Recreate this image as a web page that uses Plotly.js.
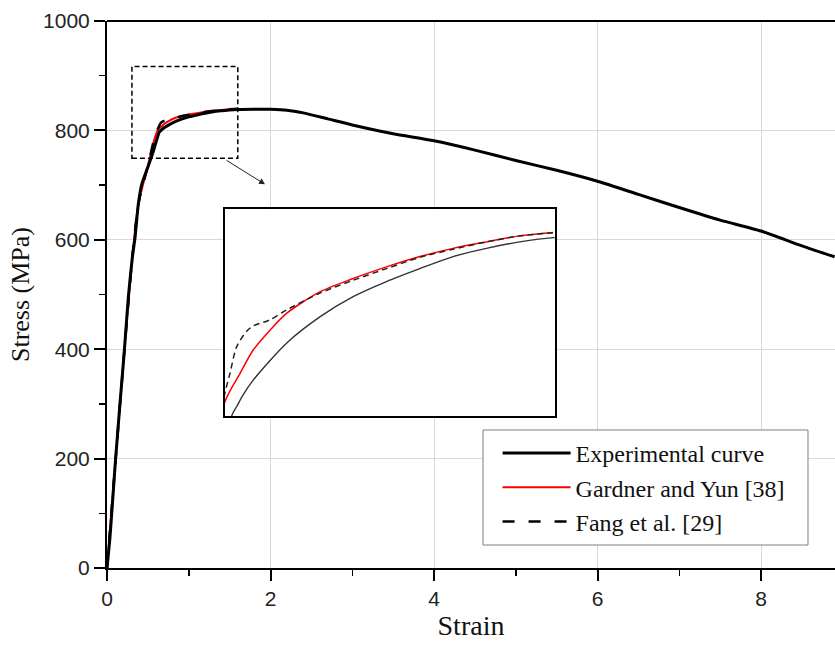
<!DOCTYPE html>
<html>
<head>
<meta charset="utf-8">
<script src="https://cdn.plot.ly/plotly-3.0.1.min.js"></script>
<style>html,body{margin:0;padding:0;background:#fff;}#chart{width:835px;height:646px;}</style>
</head>
<body>
<div id="chart"></div>
<script>
// Experimental curve (strain, stress in MPa)
const strainExp = [0,0.037,0.098,0.159,0.212,0.261,0.31,0.343,0.383,0.424,0.505,0.567,0.64,0.655,0.674,0.704,0.803,0.902,1.001,1.1,1.199,1.298,1.397,1.496,1.595,1.8,2.0,2.2,2.4,2.7,3.0,3.5,4.0,4.5,5.0,5.5,6.0,6.5,7.0,7.5,8.0,8.5,8.9];
const stressExp = [0,57,185,301,397,495,568,604,665,701,735,762,797,799.2,801.9,805.3,813.9,820,824.7,828.2,831.2,834,835.9,837.4,838.4,838.8,838.6,837,832,821,810,794,781,764,745,727,707,683,659,636,616,589,569];

// Gardner and Yun [38]
const strainGY = [0,0.098,0.212,0.31,0.383,0.505,0.58,0.62,0.665,0.704,0.754,0.803,0.902,1.001,1.1,1.199,1.298,1.397,1.496,1.595];
const stressGY = [0,185,397,568,665,738,784,800.3,806.9,812.3,816.9,820.8,825.8,828.9,831.6,834.0,835.9,837.4,838.8,839.6];

// Fang et al. [29]
const strainFang = [0,0.098,0.212,0.31,0.383,0.505,0.58,0.62,0.635,0.655,0.684,0.704,0.754,0.803,0.902,1.001,1.1,1.199,1.298,1.397,1.496,1.595];
const stressFang = [0,185,397,568,665,738,786,802.3,806.9,813.1,816.6,817.9,819.3,821.6,825.5,828.5,831.2,833.8,835.7,837.4,838.8,839.5];

const xTicks = [0,2,4,6,8];
const xMinor = [1,3,5,7];
const yTicks = [0,200,400,600,800,1000];
const yMinor = [100,300,500,700,900];

const names = ['Experimental curve','Gardner and Yun [38]','Fang et al. [29]'];

const serif = 'Liberation Serif, Times New Roman, serif';
const sans = 'Liberation Sans, Arial, sans-serif';

const traces = [
  {x: strainGY, y: stressGY, name: names[1], type:'scatter', mode:'lines', legendrank: 2,
   line:{color:'#ff0000', width:2, shape:'spline', smoothing:0.6}},
  {x: strainFang, y: stressFang, name: names[2], type:'scatter', mode:'lines', legendrank: 3,
   line:{color:'#000000', width:2.5, dash:'12px,14px', shape:'spline', smoothing:0.6}},
  {x: strainExp, y: stressExp, name: names[0], type:'scatter', mode:'lines', legendrank: 1,
   line:{color:'#000000', width:3, shape:'spline', smoothing:0.6}},
  // inset
  {x: strainExp, y: stressExp, xaxis:'x2', yaxis:'y2', type:'scatter', mode:'lines', showlegend:false,
   line:{color:'#333333', width:1.4, shape:'spline', smoothing:0.8}},
  {x: strainGY, y: stressGY, xaxis:'x2', yaxis:'y2', type:'scatter', mode:'lines', showlegend:false,
   line:{color:'#ff0000', width:1.5, shape:'spline', smoothing:0.8}},
  {x: strainFang, y: stressFang, xaxis:'x2', yaxis:'y2', type:'scatter', mode:'lines', showlegend:false,
   line:{color:'#222222', width:1.5, dash:'6px,4px', shape:'spline', smoothing:0.8}}
];

const layout = {
  width: 835, height: 646,
  margin: {l:107, r:0, t:21, b:78},
  paper_bgcolor:'#ffffff', plot_bgcolor:'#ffffff',
  showlegend: true,
  xaxis: {
    range:[0, 8.905], tickmode:'array', tickvals:xTicks, ticktext:xTicks.map(String),
    ticks:'outside', ticklen:11, tickwidth:2, tickcolor:'#000',
    showline:true, linewidth:2, linecolor:'#000', mirror:false,
    showgrid:true, gridcolor:'#d9d9d9', gridwidth:1, zeroline:false,
    tickfont:{family:sans, size:21, color:'#222'},
    minor:{tickmode:'array', tickvals:xMinor, ticks:'outside', ticklen:6, tickwidth:1.5, tickcolor:'#000', showgrid:false},
    title:{text:'Strain', font:{family:serif, size:28, color:'#111'}, standoff:6},
    automargin:false, domain:[0,1]
  },
  yaxis: {
    range:[0, 1000], tickmode:'array', tickvals:yTicks, ticktext:yTicks.map(String),
    ticks:'outside', ticklen:11, tickwidth:2, tickcolor:'#000',
    showline:true, linewidth:2, linecolor:'#000', mirror:false,
    showgrid:true, gridcolor:'#d9d9d9', gridwidth:1, zeroline:false,
    tickfont:{family:sans, size:21, color:'#222'},
    minor:{tickmode:'array', tickvals:yMinor, ticks:'outside', ticklen:6, tickwidth:1.5, tickcolor:'#000', showgrid:false},
    title:{text:'Stress (MPa)', font:{family:serif, size:26, color:'#111'}, standoff:6},
    automargin:false, domain:[0,1]
  },
  xaxis2: {
    domain:[0.162, 0.615], anchor:'y2', range:[0.62, 1.6],
    showline:true, mirror:true, linewidth:2, linecolor:'#000',
    showgrid:false, zeroline:false, ticks:'', showticklabels:false
  },
  yaxis2: {
    domain:[0.278, 0.656], anchor:'x2', range:[797, 845],
    showline:true, mirror:true, linewidth:2, linecolor:'#000',
    showgrid:false, zeroline:false, ticks:'', showticklabels:false
  },
  legend: {
    x:0.5365, y:0.2505, xanchor:'left', yanchor:'top',
    bgcolor:'rgba(0,0,0,0)', borderwidth:0,
    font:{family:serif, size:24, color:'#111'},
    itemwidth:68
  },
  shapes: [
    {type:'line', xref:'paper', yref:'paper', x0:0, x1:1, y0:1, y1:1, line:{color:'#000', width:2}},
    {type:'rect', xref:'x', yref:'y', x0:0.305, x1:1.6, y0:749, y1:917, line:{color:'#000', width:1.5, dash:'5px,3px'}},
    {type:'rect', xref:'paper', yref:'paper', x0:0.5165, x1:0.9629, y0:0.042, y1:0.2523, layer:'above',
     fillcolor:'#ffffff', line:{color:'#7f7f7f', width:1}}
  ],
  annotations: [
    {x:1.933, y:701.4, xref:'x', yref:'y', ax:1.443, ay:747, axref:'x', ayref:'y', text:'', showarrow:true,
     arrowhead:2, arrowsize:1.2, arrowwidth:1, arrowcolor:'#222'}
  ]
};

Plotly.newPlot('chart', traces, layout, {displayModeBar:false, staticPlot:true});
</script>
</body>
</html>
